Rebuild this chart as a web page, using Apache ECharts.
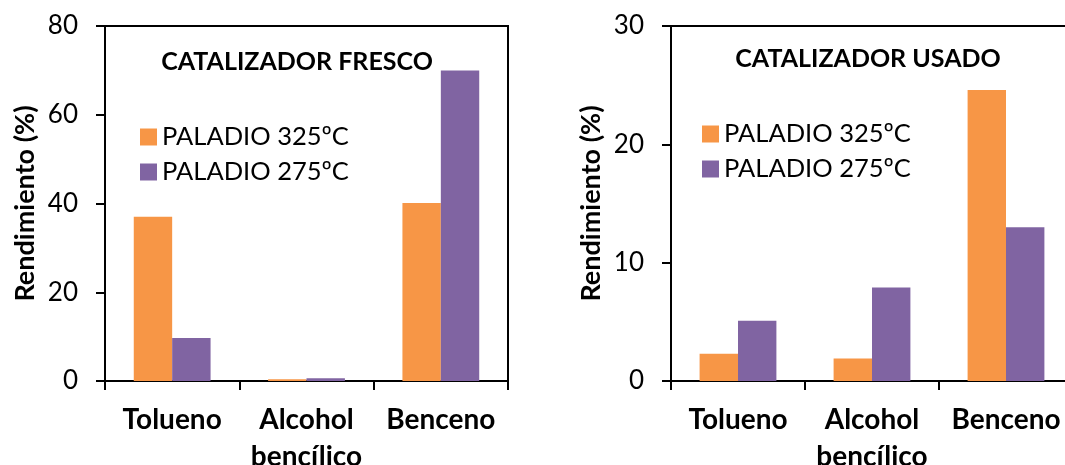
<!DOCTYPE html>
<html><head><meta charset="utf-8">
<script src="https://cdn.jsdelivr.net/npm/echarts@6/dist/echarts.min.js"></script>
<style>html,body{margin:0;padding:0;background:#fff}#c{width:1065px;height:465px}</style>
</head><body><div id="c"></div>
<script>
const categories = ['Tolueno', 'Alcohol\nbencílico', 'Benceno'];
const seriesNames = ['PALADIO 325ºC', 'PALADIO 275ºC'];
const frescoPd325 = [37, 0.4, 40.1];
const frescoPd275 = [9.7, 0.6, 70];
const usadoPd325 = [2.3, 1.9, 24.6];
const usadoPd275 = [5.1, 7.9, 13];
const titles = ['CATALIZADOR FRESCO', 'CATALIZADOR USADO'];
const yName = 'Rendimiento (%)';

const FONT = 'Lato';
const ORANGE = '#F79646', PURPLE = '#8064A2';
const chart = echarts.init(document.getElementById('c'), null, {renderer: 'canvas'});

function xAxis(gi) {
  return {
    type: 'category', gridIndex: gi, data: categories,
    axisLine: {lineStyle: {color: '#000', width: 2}},
    axisTick: {show: true, length: 9, lineStyle: {color: '#000', width: 2}},
    axisLabel: {color: '#000', fontFamily: FONT, fontWeight: 'bold', fontSize: 28, lineHeight: 37, margin: 20, interval: 0}
  };
}
function yAxis(gi, max, interval) {
  return {
    type: 'value', gridIndex: gi, min: 0, max: max, interval: interval,
    name: yName, nameLocation: 'middle', nameRotate: 90, nameGap: 66,
    nameTextStyle: {color: '#000', fontFamily: FONT, fontWeight: 'bold', fontSize: 27},
    axisLine: {show: true, lineStyle: {color: '#000', width: 2}},
    axisTick: {show: true, length: 9, lineStyle: {color: '#000', width: 2}},
    axisLabel: {color: '#000', fontFamily: FONT, fontSize: 26, margin: 27},
    splitLine: {show: false}
  };
}
function bar(name, data, gi, color) {
  return {
    type: 'bar', name: name, data: data, xAxisIndex: gi, yAxisIndex: gi,
    barWidth: 38.4, barGap: '0%',
    itemStyle: {color: color},
    emphasis: {disabled: true}
  };
}
function legend(gi, left, top) {
  return {
    orient: 'vertical', left: left, top: top,
    data: seriesNames, itemWidth: 17, itemHeight: 17, itemGap: 9,
    icon: 'rect', selectedMode: false,
    textStyle: {color: '#000', fontFamily: FONT, fontSize: 25.5, lineHeight: 26, padding: [0, 0, 0, 0]}
  };
}
const gridBase = {show: true, borderColor: '#000', borderWidth: 2, backgroundColor: 'transparent', outerBoundsMode: 'none', containLabel: false};

chart.setOption({
  animation: false,
  grid: [
    Object.assign({left: 105, top: 26, width: 403, height: 355}, gridBase),
    Object.assign({left: 671, top: 26, width: 402, height: 355}, gridBase)
  ],
  xAxis: [xAxis(0), xAxis(1)],
  yAxis: [yAxis(0, 80, 20), yAxis(1, 30, 10)],
  legend: [legend(0, 135, 119), legend(1, 697, 116)],
  graphic: [
    {type: 'text', x: 297, y: 62, style: {text: titles[0], fill: '#000', font: 'bold 25px ' + FONT, textAlign: 'center', textVerticalAlign: 'middle'}},
    {type: 'text', x: 868, y: 59, style: {text: titles[1], fill: '#000', font: 'bold 25px ' + FONT, textAlign: 'center', textVerticalAlign: 'middle'}}
  ],
  series: [
    bar(seriesNames[0], frescoPd325, 0, ORANGE),
    bar(seriesNames[1], frescoPd275, 0, PURPLE),
    bar(seriesNames[0], usadoPd325, 1, ORANGE),
    bar(seriesNames[1], usadoPd275, 1, PURPLE)
  ]
});
</script></body></html>
